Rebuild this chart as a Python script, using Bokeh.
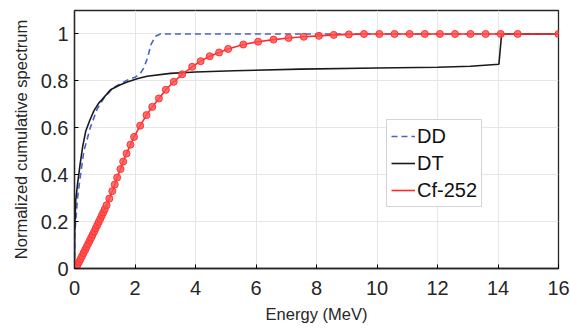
from bokeh.plotting import figure
from bokeh.models import Range1d, Legend, LegendItem, CustomJSTickFormatter, FixedTicker
from bokeh.embed import file_html
from bokeh.resources import INLINE

# ---- data ----
dd_e = [0, 0.01, 0.1, 0.2, 0.31, 0.52, 0.75, 0.97, 1.3, 1.74, 2.0, 2.18, 2.29, 2.42, 2.53, 2.68, 2.84, 16.0]
dd_y = [0, 0.15, 0.30, 0.40, 0.50, 0.60, 0.68, 0.727, 0.772, 0.803, 0.815, 0.832, 0.855, 0.90, 0.956, 0.99, 1.0, 1.0]

dt_e = [0, 0.005, 0.04, 0.1, 0.18, 0.27, 0.37, 0.5, 0.64, 0.8, 0.91, 1.19, 1.5, 1.74, 2.1, 2.4, 3.17, 4.0,
        5.27, 7.47, 10.0, 12.0, 13.09, 14.03, 14.12, 16.0]
dt_y = [0, 0.15, 0.29, 0.36, 0.44, 0.52, 0.585, 0.63, 0.672, 0.705, 0.72, 0.762, 0.782, 0.795, 0.81, 0.82,
        0.832, 0.838, 0.843, 0.85, 0.855, 0.858, 0.862, 0.871, 1.0, 1.0]

cf_e = [0, 0.05, 0.1, 0.15, 0.2, 0.25, 0.3, 0.35, 0.4, 0.45, 0.5, 0.55, 0.6, 0.65, 0.7, 0.75, 0.8, 0.85,
        0.9, 0.95, 1.0, 1.06, 1.15, 1.25, 1.33, 1.41, 1.52, 1.61, 1.72, 1.85, 1.97, 2.17, 2.38, 2.57, 2.79,
        3.02, 3.28, 3.56, 3.89, 4.17, 4.47, 4.78, 5.08, 5.58, 6.07, 6.58, 7.08, 7.58, 8.08, 8.57, 9.07,
        9.57, 10.08, 10.58, 11.08, 11.58, 12.08, 12.58, 13.09, 13.59, 14.09, 14.65, 16.0]
cf_y = [0, 0.006, 0.016, 0.028, 0.040, 0.053, 0.066, 0.079, 0.092, 0.105, 0.118, 0.131, 0.144, 0.157,
        0.171, 0.184, 0.198, 0.211, 0.225, 0.239, 0.253, 0.270, 0.298, 0.330, 0.358, 0.388, 0.424, 0.456,
        0.490, 0.528, 0.561, 0.609, 0.654, 0.689, 0.725, 0.762, 0.796, 0.828, 0.860, 0.884, 0.905, 0.921,
        0.936, 0.955, 0.967, 0.976, 0.983, 0.988, 0.992, 0.996, 0.998, 1.0, 1.0, 1.0, 1.0, 1.0, 1.0, 1.0,
        1.0, 1.0, 1.0, 1.0, 1.0]

x_ticks = [0, 2, 4, 6, 8, 10, 12, 14, 16]
y_ticks = [0, 0.2, 0.4, 0.6, 0.8, 1.0]

FONT = "Liberation Sans"
TXT = "#262626"

p = figure(width=570, height=329, output_backend="svg", toolbar_location=None,
           x_range=Range1d(0, 16), y_range=Range1d(0, 1.1),
           min_border_left=74, min_border_right=12, min_border_top=10, min_border_bottom=61)

p.outline_line_color = "#262626"
p.outline_line_width = 1.3
p.background_fill_color = "white"

for ax in p.xaxis + p.yaxis:
    ax.axis_line_color = "#262626"
    ax.axis_line_width = 1.3
    ax.major_tick_in = 4
    ax.major_tick_out = 0
    ax.minor_tick_line_color = None
    ax.major_label_text_font = FONT
    ax.major_label_text_font_size = "20px"
    ax.major_label_text_color = TXT
    ax.axis_label_text_font = FONT
    ax.axis_label_text_font_size = "16.5px"
    ax.axis_label_text_font_style = "normal"
    ax.axis_label_text_color = TXT

p.xaxis.ticker = FixedTicker(ticks=x_ticks)
p.yaxis.ticker = FixedTicker(ticks=y_ticks)
p.yaxis.formatter = CustomJSTickFormatter(code="return String(Math.round(tick*10)/10);")
p.xaxis.axis_label = "Energy (MeV)"
p.yaxis.axis_label = "Normalized cumulative spectrum"
p.xaxis.major_label_standoff = 12
p.yaxis.major_label_standoff = 6
p.xaxis.axis_label_standoff = 7
p.yaxis.axis_label_standoff = 8

p.xgrid.ticker = FixedTicker(ticks=x_ticks)
p.ygrid.ticker = FixedTicker(ticks=y_ticks)
p.grid.grid_line_color = "#e6e6e6"
p.grid.grid_line_width = 1

r_dd = p.line(dd_e, dd_y, line_color="#4a63c8", line_width=1.6, line_dash="6 4")
r_dt = p.line(dt_e, dt_y, line_color="#1a1a1a", line_width=1.6)
r_cf = p.line(cf_e, cf_y, line_color="#ff2a2a", line_width=1.6)
r_cfm = p.scatter(cf_e, cf_y, size=7, fill_color="#ff5050", fill_alpha=0.8,
                  line_color="#ff3030", line_width=1)

r_leg = p.scatter([], [], size=5, fill_color="#ff2a2a", line_color="#ff2a2a")

legend = Legend(items=[LegendItem(label="DD", renderers=[r_dd]),
                       LegendItem(label="DT", renderers=[r_dt]),
                       LegendItem(label="Cf-252", renderers=[r_cf, r_leg])],
                location=(312, 61))
legend.label_text_font = FONT
legend.label_text_font_size = "20px"
legend.label_text_color = "#111111"
legend.border_line_color = "#aaaaaa"
legend.border_line_width = 1
legend.background_fill_color = "white"
legend.background_fill_alpha = 1
legend.glyph_width = 24
legend.glyph_height = 24
legend.label_height = 24
legend.spacing = 3
legend.padding = 4
legend.margin = 0
legend.label_standoff = 2
p.add_layout(legend, "center")

open("out.html", "w").write(file_html(p, INLINE))
